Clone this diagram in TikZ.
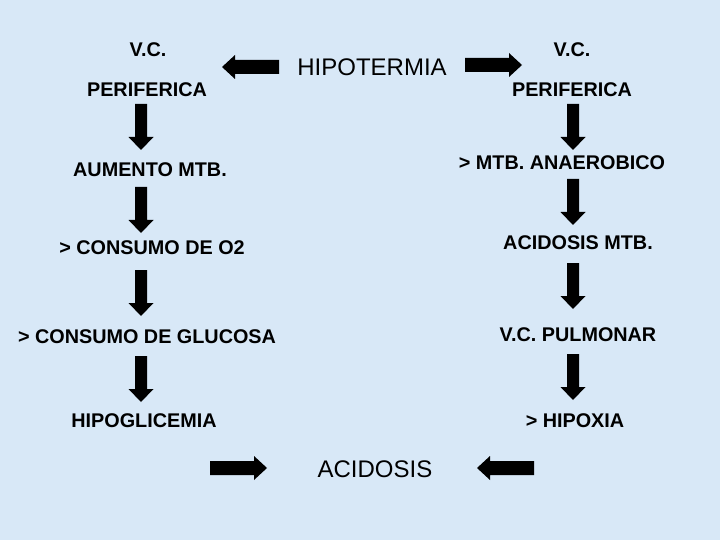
\documentclass[tikz,border=0pt]{standalone}
\usepackage{fontspec}
\setmainfont{Liberation Sans}
\definecolor{bgblue}{HTML}{D8E8F7}
\tikzset{
  small/.style={font=\fontsize{19.8}{22}\selectfont\bfseries, inner sep=0pt},
  big/.style={font=\fontsize{24}{28}\selectfont, inner sep=0pt},
  varrow/.pic={\fill[black] (0,-6) -- (33,-6) -- (33,-12.5) -- (46,0) -- (33,12.5) -- (33,6) -- (0,6) -- cycle;},
  harrow/.pic={\fill[black] (0,-7) -- (44,-7) -- (44,-12) -- (57,0) -- (44,12) -- (44,7) -- (0,7) -- cycle;}
}
\begin{document}
\begin{tikzpicture}[x=1pt,y=-1pt]
\fill[bgblue] (0,0) rectangle (720,540);
\useasboundingbox (0,0) rectangle (720,540);
% texts
\node[small] (vcl) at (148,50) {V.C.};
\node[small] (perl) at (147,90) {PERIFERICA};
\node[big] (hipo) at (372,67) {HIPOTERMIA};
\node[small] (vcr) at (572,50) {V.C.};
\node[small] (perr) at (572,90) {PERIFERICA};
\node[small] (aum) at (150,170) {AUMENTO MTB.};
\node[small] (anae) at (562,163) {> MTB. ANAEROBICO};
\node[small] (o2) at (152,248) {> CONSUMO DE O2};
\node[small] (acmtb) at (578,243) {ACIDOSIS MTB.};
\node[small] (gluc) at (147,337) {> CONSUMO DE GLUCOSA};
\node[small] (pulm) at (578,335) {V.C. PULMONAR};
\node[small] (hipogl) at (144,421) {HIPOGLICEMIA};
\node[small] (hipox) at (575,421) {> HIPOXIA};
\node[big] (acid) at (375,469) {ACIDOSIS};
% horizontal arrows
\pic[rotate=180] at (279,67) {harrow};
\pic at (465,65) {harrow};
\pic at (210,468) {harrow};
\pic[rotate=180] at (534,468) {harrow};
% vertical arrows left
\pic[rotate=-90] at (141,104) {varrow};
\pic[rotate=-90] at (141,187) {varrow};
\pic[rotate=-90] at (141,270) {varrow};
\pic[rotate=-90] at (141,356) {varrow};
% vertical arrows right
\pic[rotate=-90] at (573,104) {varrow};
\pic[rotate=-90] at (573,179) {varrow};
\pic[rotate=-90] at (573,263) {varrow};
\pic[rotate=-90] at (573,354) {varrow};
\end{tikzpicture}
\end{document}
